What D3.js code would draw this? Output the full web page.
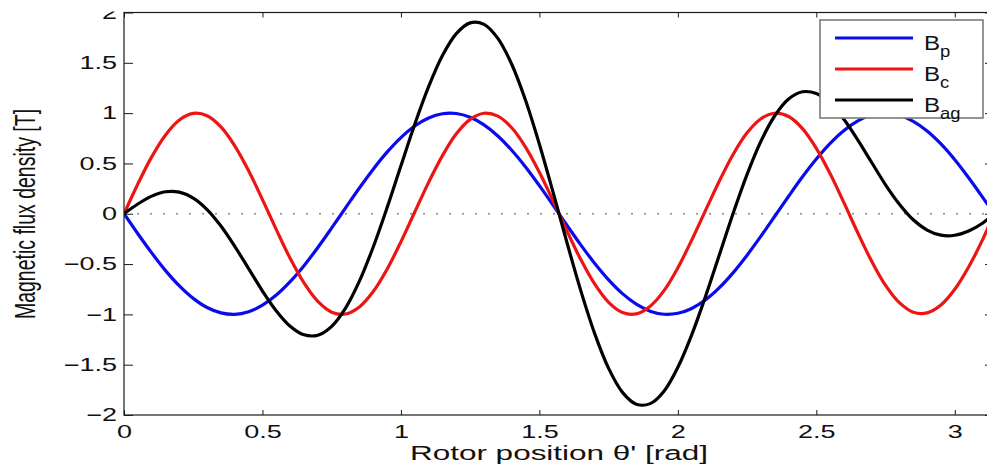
<!DOCTYPE html>
<html>
<head>
<meta charset="utf-8">
<script src="https://cdn.jsdelivr.net/npm/d3@7"></script>
<style>
  html, body { margin: 0; padding: 0; background: #fff; }
  svg { display: block; }
  text { font-family: "Liberation Sans", Arial, Helvetica, sans-serif; fill: #111; }
</style>
</head>
<body>
<svg id="chart" width="987" height="464"></svg>
<script>
// ---- data ----
const theta = [0, 0.05, 0.10, 0.15, 0.20, 0.25, 0.30, 0.35, 0.40, 0.45, 0.50, 0.55, 0.60, 0.65, 0.70, 0.75,
  0.80, 0.85, 0.90, 0.95, 1.00, 1.05, 1.10, 1.15, 1.20, 1.25, 1.30, 1.35, 1.40, 1.45, 1.50, 1.55,
  1.60, 1.65, 1.70, 1.75, 1.80, 1.85, 1.90, 1.95, 2.00, 2.05, 2.10, 2.15, 2.20, 2.25, 2.30, 2.35,
  2.40, 2.45, 2.50, 2.55, 2.60, 2.65, 2.70, 2.75, 2.80, 2.85, 2.90, 2.95, 3.00, 3.05, 3.10, 3.1416];

const Bp = [0, -0.199, -0.389, -0.565, -0.717, -0.841, -0.932, -0.985, -1.000, -0.974, -0.909, -0.808, -0.675, -0.516, -0.335, -0.141,
  0.058, 0.256, 0.443, 0.612, 0.757, 0.872, 0.952, 0.994, 0.996, 0.959, 0.883, 0.773, 0.631, 0.465, 0.279, 0.083,
  -0.117, -0.312, -0.494, -0.657, -0.794, -0.899, -0.968, -0.999, -0.989, -0.941, -0.855, -0.734, -0.585, -0.412, -0.223, -0.025,
  0.174, 0.367, 0.544, 0.700, 0.828, 0.923, 0.981, 1.000, 0.979, 0.919, 0.823, 0.694, 0.537, 0.358, 0.166, 0];

const Bc = [0, 0.296, 0.565, 0.783, 0.932, 0.997, 0.974, 0.863, 0.675, 0.427, 0.141, -0.158, -0.443, -0.688, -0.872, -0.978,
  -0.996, -0.926, -0.773, -0.551, -0.279, 0.017, 0.312, 0.578, 0.794, 0.938, 0.999, 0.970, 0.855, 0.663, 0.412, 0.125,
  -0.174, -0.458, -0.700, -0.880, -0.981, -0.995, -0.919, -0.764, -0.537, -0.262, 0.034, 0.326, 0.592, 0.804, 0.944, 0.999,
  0.966, 0.846, 0.650, 0.397, 0.108, -0.191, -0.472, -0.712, -0.884, -0.979, -0.985, -0.907, -0.751, -0.529, -0.260, 0];

const Bag = [0, 0.097, 0.175, 0.219, 0.215, 0.156, 0.042, -0.122, -0.324, -0.546, -0.768, -0.966, -1.118, -1.203, -1.207, -1.119,
  -0.938, -0.670, -0.330, 0.061, 0.477, 0.889, 1.263, 1.572, 1.790, 1.897, 1.882, 1.743, 1.486, 1.128, 0.691, 0.208,
  -0.291, -0.769, -1.194, -1.537, -1.775, -1.893, -1.887, -1.763, -1.526, -1.203, -0.821, -0.408, 0.007, 0.392, 0.721, 0.974,
  1.140, 1.212, 1.194, 1.096, 0.936, 0.732, 0.509, 0.288, 0.095, -0.060, -0.162, -0.213, -0.214, -0.171, -0.094, 0];

const seriesNames = ["p", "c", "ag"];
const seriesColors = ["#0a0aee", "#ee1414", "#000000"];
const xTicks = [0, 0.5, 1, 1.5, 2, 2.5, 3];
const yTicks = [-2, -1.5, -1, -0.5, 0, 0.5, 1, 1.5, 2];
const xLabel = "Rotor position θ' [rad]";
const yLabel = "Magnetic flux density [T]";

// ---- layout ----
const L = 124, R = 994, T = 12.5, B = 415;
const SX = 1.5; // horizontal stretch of the text in the picture

const svg = d3.select("#chart");
const x = d3.scaleLinear().domain([0, Math.PI]).range([L, R]);
const y = d3.scaleLinear().domain([-2, 2]).range([B, T]);

const fmt = d => (d < 0 ? "\u2212" : "") + Math.abs(d);

const defs = svg.append("defs");
defs.append("clipPath").attr("id", "plotclip")
  .append("rect").attr("x", L).attr("y", T).attr("width", R - L).attr("height", B - T);
// clip for the y tick labels (in the left axis group's own coordinates)
defs.append("clipPath").attr("id", "topclip")
  .append("rect").attr("x", -200).attr("y", 11.5).attr("width", 400).attr("height", 460);

// zero dotted line
svg.append("line")
  .attr("x1", x(0)).attr("x2", x(Math.PI)).attr("y1", y(0)).attr("y2", y(0))
  .attr("stroke", "#8a8a8a").attr("stroke-width", 1.6).attr("stroke-dasharray", "2,11");

// curves
const series = [Bp, Bc, Bag];
const line = d3.line().x((d, i) => x(theta[i])).y(d => y(d)).curve(d3.curveCatmullRom);
const gLines = svg.append("g").attr("clip-path", "url(#plotclip)");
series.forEach((s, k) => {
  gLines.append("path").datum(s)
    .attr("d", line)
    .attr("fill", "none")
    .attr("stroke", seriesColors[k])
    .attr("stroke-width", 3.2)
    .attr("stroke-linejoin", "round")
    .attr("stroke-linecap", "round");
});

// axes box
svg.append("rect").attr("x", L).attr("y", T).attr("width", R - L).attr("height", B - T)
  .attr("fill", "none").attr("stroke", "#1a1a1a").attr("stroke-width", 1.2);

// bottom axis
const gx = svg.append("g").attr("transform", `translate(0,${B})`)
  .call(d3.axisBottom(x).tickValues(xTicks).tickSizeInner(-5).tickSizeOuter(0).tickPadding(10).tickFormat(fmt));
gx.select(".domain").remove();
gx.selectAll(".tick line").attr("stroke", "#1a1a1a");
gx.selectAll(".tick text").attr("font-size", 18).attr("fill", "#111").attr("transform", `scale(${SX},1)`);

// top axis (ticks only)
const gxt = svg.append("g").attr("transform", `translate(0,${T})`)
  .call(d3.axisTop(x).tickValues(xTicks).tickSizeInner(-5).tickSizeOuter(0).tickFormat(""));
gxt.select(".domain").remove();
gxt.selectAll(".tick line").attr("stroke", "#1a1a1a");

// left axis
const gy = svg.append("g").attr("transform", `translate(${L},0)`)
  .call(d3.axisLeft(y).tickValues(yTicks).tickSizeInner(-9).tickSizeOuter(0).tickPadding(7).tickFormat(fmt));
gy.select(".domain").remove();
gy.selectAll(".tick line").attr("stroke", "#1a1a1a");
gy.selectAll(".tick text").attr("font-size", 18).attr("fill", "#111")
  .attr("x", -7 / SX).attr("transform", `scale(${SX},1)`)
  .attr("clip-path", null);
// only the lower part of the top "2" is visible in the picture
const gyLabelsClip = svg.append("g").attr("clip-path", "url(#topclip2)");
defs.append("clipPath").attr("id", "topclip2")
  .append("rect").attr("x", 0).attr("y", 11.5).attr("width", 987).attr("height", 460);
gyLabelsClip.node().appendChild(gy.node());

// right axis (ticks only)
const gyr = svg.append("g").attr("transform", `translate(${R},0)`)
  .call(d3.axisRight(y).tickValues(yTicks).tickSizeInner(-9).tickSizeOuter(0).tickFormat(""));
gyr.select(".domain").remove();
gyr.selectAll(".tick line").attr("stroke", "#1a1a1a");

// axis titles
svg.append("text")
  .attr("transform", `translate(${(L + R) / 2},460) scale(${SX},1)`)
  .attr("text-anchor", "middle").attr("font-size", 21)
  .text(xLabel);

svg.append("text")
  .attr("transform", `translate(35,214) scale(${SX},1) rotate(-90)`)
  .attr("text-anchor", "middle").attr("font-size", 19.5)
  .text(yLabel);

// legend
const lg = svg.append("g");
lg.append("rect").attr("x", 820).attr("y", 20).attr("width", 163).attr("height", 98)
  .attr("fill", "#fff").attr("stroke", "#7a7a7a").attr("stroke-width", 1.6);
seriesNames.forEach((n, k) => {
  const ly = 38 + k * 31;
  lg.append("line").attr("x1", 835).attr("x2", 913).attr("y1", ly).attr("y2", ly)
    .attr("stroke", seriesColors[k]).attr("stroke-width", 3.2);
  const t = lg.append("text")
    .attr("transform", `translate(924,${ly + 4.5}) scale(1.15,1)`)
    .attr("font-size", 21);
  t.append("tspan").text("B").attr("dy", "0.35em");
  t.append("tspan").text(n).attr("font-size", 16).attr("dy", "0.45em");
});
</script>
</body>
</html>
